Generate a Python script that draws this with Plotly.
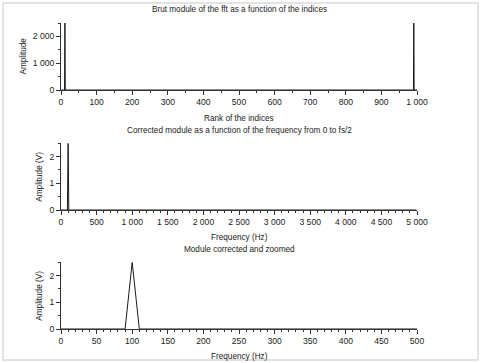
import plotly.graph_objects as go

# Raw FFT module vs. index (1..1000); zero everywhere except around the peaks
rank_idx = [1, 10, 11, 12, 990, 991, 992, 1000]
rank_amp = [0, 0, 2500, 0, 0, 2500, 0, 0]

# Corrected module vs. frequency 0..fs/2
freq_hz = [0, 90, 100, 110, 4990]
freq_amp = [0, 0, 2.5, 0, 0]

# Zoomed 0..500 Hz
zoom_hz = [0, 90, 100, 110, 500]
zoom_amp = [0, 0, 2.5, 0, 0]

titles = ["Brut module of the fft as a function of the indices",
          "Corrected module as a function of the frequency from 0 to fs/2",
          "Module corrected and zoomed"]
xtitles = ["Rank of the indices", "Frequency (Hz)", "Frequency (Hz)"]
ytitles = ["Amplitude", "Amplitude (V)", "Amplitude (V)"]

W, H = 480, 363
L, R, T, B = 61, 63, 23, 34
PW, PH = W - L - R, H - T - B

def py(pix):  # pixel y (from top) -> paper y
    return (H - B - pix) / PH

def px(pix):
    return (pix - L) / PW

fig = go.Figure()
LINE = "#1a1a1a"
fig.add_trace(go.Scatter(x=rank_idx, y=rank_amp, mode="lines",
                         line=dict(color=LINE, width=1), xaxis="x", yaxis="y"))
fig.add_trace(go.Scatter(x=freq_hz, y=freq_amp, mode="lines",
                         line=dict(color=LINE, width=1), xaxis="x2", yaxis="y2"))
fig.add_trace(go.Scatter(x=zoom_hz, y=zoom_amp, mode="lines",
                         line=dict(color=LINE, width=1), xaxis="x3", yaxis="y3"))

AX = "#333333"
TF = dict(family="Liberation Sans, Arial, sans-serif", size=8.6, color="#222222")
def xax(rng, dt, mdt, anchor):
    return dict(range=rng, dtick=dt, tick0=0, showgrid=False, zeroline=False,
                showline=True, linecolor=AX, linewidth=1, ticks="outside",
                ticklen=4, tickcolor=AX, tickwidth=1, tickfont=TF,
                separatethousands=True, anchor=anchor, domain=[0, 1],
                minor=dict(dtick=mdt, tick0=0, ticks="outside", ticklen=2,
                           tickcolor=AX, showgrid=False))
def yax(rng, dt, mdt, dom, anchor):
    return dict(range=rng, dtick=dt, tick0=0, showgrid=False, zeroline=False,
                showline=True, linecolor=AX, linewidth=1, ticks="outside",
                ticklen=4, tickcolor=AX, tickwidth=1, tickfont=TF,
                separatethousands=True, anchor=anchor, domain=dom,
                minor=dict(dtick=mdt, tick0=0, ticks="outside", ticklen=2,
                           tickcolor=AX, showgrid=False))

dom1 = [py(90), py(23)]
dom2 = [py(210), py(143.3)]
dom3 = [py(329), py(262.3)]

fig.update_layout(
    width=W, height=H, margin=dict(l=L, r=R, t=T, b=B),
    paper_bgcolor="white", plot_bgcolor="white", showlegend=False,
    separators=". ",
    xaxis=xax([0, 1000], 100, 50, "y"),
    yaxis=yax([0, 2500], 1000, 500, dom1, "x"),
    xaxis2=xax([0, 5000], 500, 100, "y2"),
    yaxis2=yax([0, 2.5], 1, 0.5, dom2, "x2"),
    xaxis3=xax([0, 500], 50, 10, "y3"),
    yaxis3=yax([0, 2.5], 1, 0.5, dom3, "x3"),
)

AF = dict(family="Liberation Sans, Arial, sans-serif", size=8.2, color="#1a1a1a")
ann = []
title_y = [10, 130, 249.5]
xt_y = [118, 237, 356.5]
yt_x = [23, 40, 40]
yt_c = [56.5, 176.7, 295.7]
for i in range(3):
    ann.append(dict(text=titles[i], x=0.5, y=py(title_y[i]), xref="paper", yref="paper",
                    showarrow=False, font=AF, xanchor="center", yanchor="middle"))
    ann.append(dict(text=xtitles[i], x=0.5, y=py(xt_y[i]), xref="paper", yref="paper",
                    showarrow=False, font=AF, xanchor="center", yanchor="middle"))
    ann.append(dict(text=ytitles[i], x=px(yt_x[i]), y=py(yt_c[i]), xref="paper", yref="paper",
                    showarrow=False, font=AF, textangle=-90,
                    xanchor="center", yanchor="middle"))
fig.update_layout(annotations=ann)

fig.add_shape(type="rect", xref="paper", yref="paper",
              x0=px(3), x1=px(478), y0=py(360), y1=py(3),
              line=dict(color="#dadada", width=1.5), layer="below")

fig.write_html("out.html", config={"displayModeBar": False},
               post_script="document.body.style.margin='0';document.body.style.overflow='hidden';")
